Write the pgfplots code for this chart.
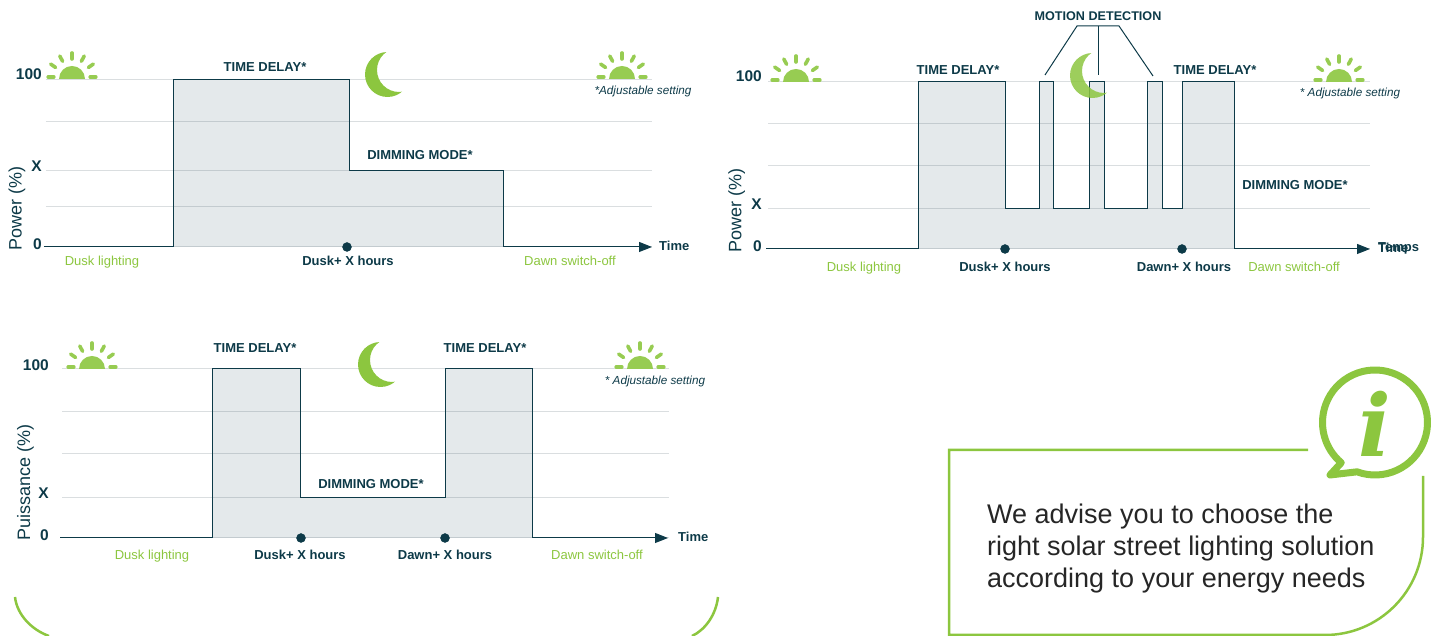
\documentclass[border=0pt]{standalone}
\usepackage{fontspec}
\setmainfont{Liberation Sans}
\newfontfamily\serifi{DejaVu Serif}
\usepackage{pgfplots}
\pgfplotsset{compat=1.18}
\usetikzlibrary{arrows.meta}
\definecolor{dark}{HTML}{0D3A48}
\definecolor{leaf}{HTML}{8CC63F}
\definecolor{gridc}{HTML}{DADEE0}
\newcommand{\bold}{\fontsize{13}{15}\selectfont\bfseries}

% everything is laid out in reference pixels, 1px = 1pt, y counted from the top
\newcommand{\lbl}[3]{\node[dark,inner sep=0pt,font=\bold] at (#1,{636-#2}) {#3};}
\newcommand{\note}[3]{\node[dark,inner sep=0pt,font=\fontsize{11.7}{14}\selectfont\itshape] at (#1,{636-#2}) {#3};}
\newcommand{\timelbl}[2]{\node[dark,anchor=west,inner sep=0pt,font=\bold] at (#1,{636-#2}) {Time};}
\newcommand{\up}[2]{\raisebox{#1pt}{#2}}
\newcommand{\sunicon}[2]{%
  \begin{scope}[shift={(#1,{636-#2})}]
    \fill[leaf!90] (-13,0) arc[start angle=180,end angle=0,radius=13] -- cycle;
    \foreach \a in {62,90,118,35,145}
      \draw[leaf!90,line width=3.6pt,line cap=round] (\a:20) -- (\a:26);
    \draw[leaf!90,line width=3.2pt,line cap=round] (-24,2) -- (-18,2);
    \draw[leaf!90,line width=3.2pt,line cap=round] (18,2) -- (24,2);
  \end{scope}}
\newcommand{\moonicon}[3]{%
  \begin{scope}[shift={(#1,{636-#2})}]
    \begin{scope}
      \clip (0,0) circle (22.5);
      \fill[leaf,even odd rule,fill opacity=#3] (-30,-30) rectangle (30,30) (11.5,4.5) circle (22);
    \end{scope}
  \end{scope}}

\pgfplotsset{
  panel/.style={
    scale only axis,
    anchor=south west,
    ymin=0, ymax=100,
    clip=false,
    axis line style={draw=none},
    major tick length=0pt,
    ytick={0,24,46,75,100},
    ymajorgrids,
    grid style={gridc,line width=1pt},
    tick label style={inner sep=0pt},
    yticklabel style={anchor=east,font=\fontsize{15.5}{17}\selectfont\bfseries,text=dark,yshift=3pt},
    xticklabel style={anchor=base,font=\bold,text=dark},
    ylabel style={anchor=center,rotate=0,font=\fontsize{18}{20}\selectfont,text=dark},
  },
  area/.style={draw=none,fill=dark,fill opacity=.11,forget plot},
  trace/.style={dark,line width=1pt,-{Triangle[length=13pt,width=10pt]}},
  dot/.style={only marks,mark=*,mark size=4.5pt,dark,mark options={fill=dark}},
}
\newcommand{\gl}[1]{{\mdseries\color{leaf}#1}}

\begin{document}
\begin{tikzpicture}[x=1pt,y=1pt]
\path[use as bounding box] (0,0) rectangle (1433,636);

% top left
\begin{axis}[panel,at={(46pt,389pt)},width=606pt,height=167pt,xmin=46,xmax=652,
    yticklabels={0,,\up{3}{X},,\up{6}{100}},yticklabel style={xshift=-4pt},
    xtick={102,348,570},xticklabel style={yshift=-19pt},
    xticklabels={\gl{Dusk lighting},Dusk+ X hours,\gl{Dawn switch-off}},
    ylabel={Power (\%)},
    ylabel style={at={(axis description cs:-0.048,0.233)}}]
\addplot[area] coordinates {(173,0) (173,100) (349,100) (349,46) (503,46) (503,0)} \closedcycle;
\addplot[trace] coordinates {(44,0) (173,0) (173,100) (349,100) (349,46) (503,46) (503,0) (652,0)};
\addplot[dot] coordinates {(347,0)};
\end{axis}

% top right
\begin{axis}[panel,at={(768pt,387pt)},width=602pt,height=167pt,xmin=768,xmax=1370,
    ytick={0,24,50,75,100},
    yticklabels={0,\up{3}{X},,,\up{6}{100}},yticklabel style={xshift=-6pt},
    xtick={864,1005,1184,1294},xticklabel style={yshift=-23pt},
    xticklabels={\gl{Dusk lighting},Dusk+ X hours,Dawn+ X hours,\gl{Dawn switch-off}},
    ylabel={Power (\%)},
    ylabel style={at={(axis description cs:-0.052,0.233)}}]
\addplot[area] coordinates {(918,0) (918,100) (1005,100) (1005,24) (1039,24) (1039,100) (1053,100) (1053,24) (1089.5,24) (1089.5,100) (1104.5,100) (1104.5,24) (1147,24) (1147,100) (1162,100) (1162,24) (1182.5,24) (1182.5,100) (1234,100) (1234,0)} \closedcycle;
\addplot[trace] coordinates {(766,0) (918,0) (918,100) (1005,100) (1005,24) (1039,24) (1039,100) (1053,100) (1053,24) (1089.5,24) (1089.5,100) (1104.5,100) (1104.5,24) (1147,24) (1147,100) (1162,100) (1162,24) (1182.5,24) (1182.5,100) (1234,100) (1234,0) (1370,0)};
\addplot[dot] coordinates {(1005,0) (1182,0)};
\end{axis}

% bottom left
\begin{axis}[panel,at={(62pt,98pt)},width=607pt,height=169pt,xmin=62,xmax=669,
    ytick={0,24,50,75,100},
    yticklabels={0,\up{3}{X},,,\up{1}{100}},yticklabel style={xshift=-13pt},
    xtick={152,300,445,597},xticklabel style={yshift=-22pt},
    xticklabels={\gl{Dusk lighting},Dusk+ X hours,Dawn+ X hours,\gl{Dawn switch-off}},
    ylabel={Puissance (\%)},
    ylabel style={at={(axis description cs:-0.060,0.33)}}]
\addplot[area] coordinates {(212,0) (212,100) (300.5,100) (300.5,24) (445,24) (445,100) (532,100) (532,0)} \closedcycle;
\addplot[trace] coordinates {(60,0) (212,0) (212,100) (300.5,100) (300.5,24) (445,24) (445,100) (532,100) (532,0) (668,0)};
\addplot[dot] coordinates {(301,0) (445,0)};
\end{axis}

% annotations, top left
\lbl{265}{67.5}{TIME DELAY*}
\lbl{420}{155}{DIMMING MODE*}
\timelbl{659}{246}
\note{643}{91.5}{*Adjustable setting}
\sunicon{72}{79}
\sunicon{622}{79}
\moonicon{387.5}{74.5}{1}

% annotations, top right
\lbl{958}{70}{TIME DELAY*}
\lbl{1215}{70}{TIME DELAY*}
\lbl{1295}{185}{DIMMING MODE*}
\node[dark,inner sep=0pt,font=\fontsize{12.6}{15}\selectfont\bfseries] at (1098,{636-16}) {MOTION DETECTION};
\draw[dark,line width=1pt] (1045,{636-75}) -- (1077,{636-26}) -- (1119,{636-26}) -- (1153,{636-76});
\draw[dark,line width=1pt] (1098,{636-26}) -- (1098,{636-75});
\node[anchor=west,inner sep=0pt,font=\bold,dark] at (1378,{636-248}) {Temps};
\timelbl{1378}{248}
\note{1350}{93}{* Adjustable setting}
\sunicon{796}{82}
\sunicon{1339}{82}
\moonicon{1092.5}{75.5}{.85}

% annotations, bottom left
\lbl{255}{348}{TIME DELAY*}
\lbl{485}{348}{TIME DELAY*}
\lbl{371}{484}{DIMMING MODE*}
\timelbl{678}{537}
\note{655}{381}{* Adjustable setting}
\sunicon{92}{369}
\sunicon{640}{369}
\moonicon{380.5}{364.5}{1}

% frame under the charts
\draw[leaf,line width=2.5pt] (15,{636-597}) .. controls (17,{636-615}) and (32,{636-630}) .. (49,{636-636});
\draw[leaf,line width=2.5pt] (718,{636-597}) .. controls (716,{636-615}) and (705,{636-630}) .. (692,{636-636});

% info box
\draw[leaf,line width=2.5pt] (1308,{636-450}) -- (949,{636-450}) -- (949,{636-635}) -- (1325,{636-635})
  arc[start angle=-90,end angle=0,radius=98] -- (1423,{636-476});
\draw[leaf,line width=7pt,line join=round,fill=white]
  ([shift=(250:52.5)]1375,{636-422.5}) arc[start angle=250,end angle=590,radius=52.5]
  -- (1330,{636-475}) -- cycle;
\node[leaf,inner sep=0pt,font=\fontsize{86}{86}\selectfont\serifi\bfseries\itshape] at (1375,{636-424}) {i};
\node[anchor=west,align=left,inner sep=0pt,text=black!85,font=\fontsize{27}{32}\selectfont] at (987,{636-549})
  {We advise you to choose the\\right solar street lighting solution\\according to your energy needs};
\end{tikzpicture}
\end{document}
